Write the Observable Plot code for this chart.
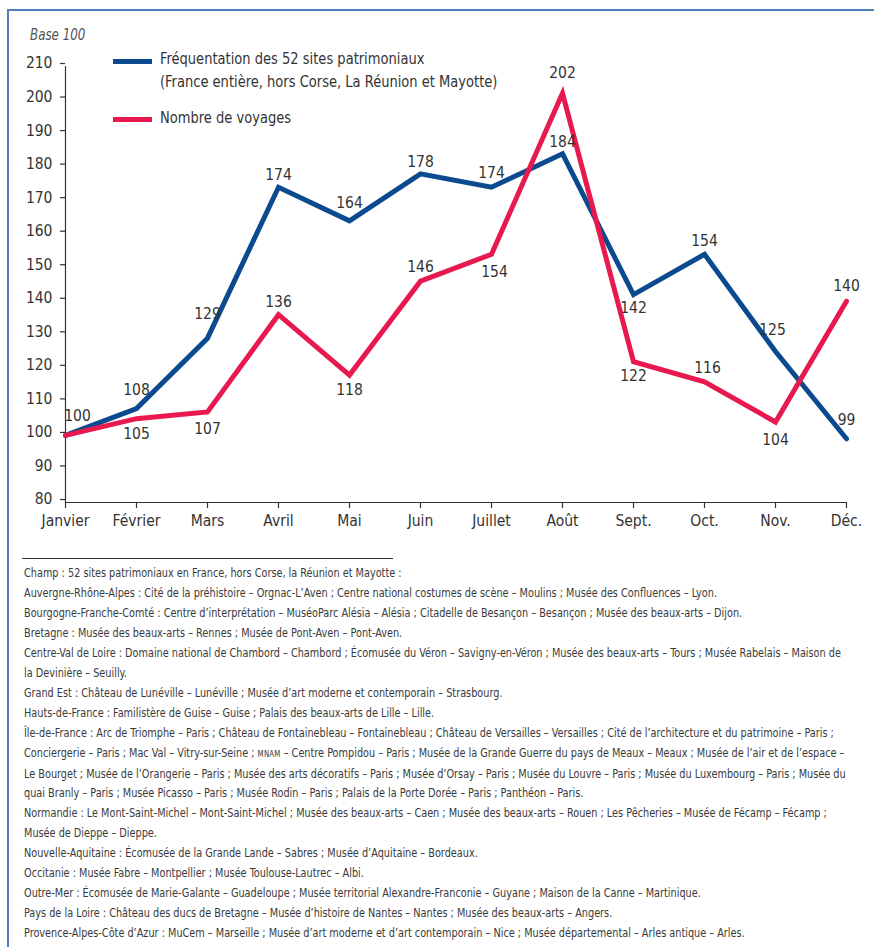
<!DOCTYPE html>
<html lang="fr">
<head>
<meta charset="utf-8">
<script src="https://cdn.jsdelivr.net/npm/d3@7"></script>
<script src="https://cdn.jsdelivr.net/npm/@observablehq/plot@0.6"></script>
<style>
  body { margin: 0; background: #fff; }
  #page { position: relative; width: 874px; height: 947px; overflow: hidden;
    font-family: "Liberation Sans Narrow", "Arial Narrow", "DejaVu Sans Condensed", sans-serif; color: #333; }
  #frame { position: absolute; left: 7px; top: 9px; right: 0; bottom: -5px;
    border-top: 2px solid #4f7fba; border-left: 2px solid #4f7fba; }
  #chart { position: absolute; left: 0; top: 0; }
  #base { position: absolute; left: 30px; top: 26px; font-style: italic; font-size: 15px; color: #555;
    transform: scaleX(0.88); transform-origin: left center; }
  .leg { position: absolute; left: 113px; font-size: 16.5px; color: #333; }
  .sw { position: absolute; left: 0; width: 39px; height: 5px; }
  .leg .t { position: absolute; left: 47px; white-space: nowrap; line-height: 23px;
    transform: scaleX(0.88); transform-origin: left center; }
  #sep { position: absolute; left: 22px; top: 558px; width: 371px; height: 1px; background: #333; }
  #notes { position: absolute; left: 24px; top: 563px; font-size: 13px; line-height: 19.95px; color: #3a3a3a;
    transform-origin: left top; }
  #notes div { white-space: nowrap; }
  .sc { font-size: 0.72em; letter-spacing: 0.03em; }
</style>
</head>
<body>
<div id="page">
  <div id="frame"></div>
  <div id="chart"></div>
  <div id="base">Base 100</div>
  <div class="leg" id="leg1" style="top:47px"><div class="sw" style="top:12px"></div><div class="t" style="top:0"></div></div>
  <div class="leg" id="leg2" style="top:106px"><div class="sw" style="top:11px"></div><div class="t" style="top:0"></div></div>
  <div id="sep"></div>
  <div id="notes"></div>
</div>
<script>
// ---- Data ----
const months = ["Janvier", "Février", "Mars", "Avril", "Mai", "Juin", "Juillet", "Août", "Sept.", "Oct.", "Nov.", "Déc."];
const frequentation = [100, 108, 129, 174, 164, 178, 174, 184, 142, 154, 125, 99];
const voyages = [100, 105, 107, 136, 118, 146, 154, 202, 122, 116, 104, 140];
const yTicks = [80, 90, 100, 110, 120, 130, 140, 150, 160, 170, 180, 190, 200, 210];
const seriesNames = ["Fréquentation des 52 sites patrimoniaux", "(France entière, hors Corse, La Réunion et Mayotte)", "Nombre de voyages"];
const notes = [
  "Champ : 52 sites patrimoniaux en France, hors Corse, la Réunion et Mayotte :",
  "Auvergne-Rhône-Alpes : Cité de la préhistoire – Orgnac-L’Aven ; Centre national costumes de scène – Moulins ; Musée des Confluences – Lyon.",
  "Bourgogne-Franche-Comté : Centre d’interprétation – MuséoParc Alésia – Alésia ; Citadelle de Besançon – Besançon ; Musée des beaux-arts – Dijon.",
  "Bretagne : Musée des beaux-arts – Rennes ; Musée de Pont-Aven – Pont-Aven.",
  "Centre-Val de Loire : Domaine national de Chambord – Chambord ; Écomusée du Véron – Savigny-en-Véron ; Musée des beaux-arts – Tours ; Musée Rabelais – Maison de",
  "la Devinière – Seuilly.",
  "Grand Est : Château de Lunéville – Lunéville ; Musée d’art moderne et contemporain – Strasbourg.",
  "Hauts-de-France : Familistère de Guise – Guise ; Palais des beaux-arts de Lille – Lille.",
  "Île-de-France : Arc de Triomphe – Paris ; Château de Fontainebleau – Fontainebleau ; Château de Versailles – Versailles ; Cité de l’architecture et du patrimoine – Paris ;",
  "Conciergerie – Paris ; Mac Val – Vitry-sur-Seine ; {mnam} – Centre Pompidou – Paris ; Musée de la Grande Guerre du pays de Meaux – Meaux ; Musée de l’air et de l’espace –",
  "Le Bourget ; Musée de l’Orangerie – Paris ; Musée des arts décoratifs – Paris ; Musée d’Orsay – Paris ; Musée du Louvre – Paris ; Musée du Luxembourg – Paris ; Musée du",
  "quai Branly – Paris ; Musée Picasso – Paris ; Musée Rodin – Paris ; Palais de la Porte Dorée – Paris ; Panthéon – Paris.",
  "Normandie : Le Mont-Saint-Michel – Mont-Saint-Michel ; Musée des beaux-arts – Caen ; Musée des beaux-arts – Rouen ; Les Pêcheries – Musée de Fécamp – Fécamp ;",
  "Musée de Dieppe – Dieppe.",
  "Nouvelle-Aquitaine : Écomusée de la Grande Lande – Sabres ; Musée d’Aquitaine – Bordeaux.",
  "Occitanie : Musée Fabre – Montpellier ; Musée Toulouse-Lautrec – Albi.",
  "Outre-Mer : Écomusée de Marie-Galante – Guadeloupe ; Musée territorial Alexandre-Franconie – Guyane ; Maison de la Canne – Martinique.",
  "Pays de la Loire : Château des ducs de Bretagne – Musée d’histoire de Nantes – Nantes ; Musée des beaux-arts – Angers.",
  "Provence-Alpes-Côte d’Azur : MuCem – Marseille ; Musée d’art moderne et d’art contemporain – Nice ; Musée départemental – Arles antique – Arles."
];

// ---- Styling / layout ----
const BLUE = "#0b4a8e";
const RED = "#e8194e";
const FONT = "'Liberation Sans Narrow', 'Arial Narrow', 'DejaVu Sans Condensed', sans-serif";
const FS = 15.5;

const blueRows = months.map((m, i) => ({month: m, value: frequentation[i]}));
const redRows = months.map((m, i) => ({month: m, value: voyages[i]}));

// label offsets [dx, dy] (pixels) per point
const blueOff = [[12,-19],[0,-19],[0,-24],[0,-12],[0,-18],[0,-12],[0,-14],[0,-12],[0,13],[0,-13],[-3,-22],[0,-19]];
const redOff  = [null,[0,15],[0,17],[0,-13],[0,15],[0,-14],[3,18],[0,-20],[0,14],[3,-14],[0,18],[0,-15]];

const labelMarks = [];
blueRows.forEach((d, i) => {
  const o = blueOff[i];
  if (o) labelMarks.push(Plot.text([d], {x: "month", y: "value", text: d => String(d.value), dx: o[0], dy: o[1], fill: "#333", fontSize: FS}));
});
redRows.forEach((d, i) => {
  const o = redOff[i];
  if (o) labelMarks.push(Plot.text([d], {x: "month", y: "value", text: d => String(d.value), dx: o[0], dy: o[1], fill: "#333", fontSize: FS}));
});

const chart = Plot.plot({
  width: 874,
  height: 545,
  marginLeft: 65,
  marginRight: 28,
  marginTop: 66,
  marginBottom: 43,
  style: {fontFamily: FONT, fontSize: FS + "px", color: "#333", background: "transparent", overflow: "visible"},
  x: {type: "point", domain: months, padding: 0},
  y: {domain: [80, 210]},
  marks: [
    Plot.axisY({ticks: yTicks, tickSize: 5, tickPadding: 8, dy: -3, label: null, fontSize: FS, stroke: "#333", strokeWidth: 1.2}),
    Plot.axisX({tickSize: 6, tickPadding: 6, label: null, fontSize: FS, stroke: "#333", strokeWidth: 1.2}),
    Plot.ruleY([80], {stroke: "#333", strokeWidth: 1.2}),
    Plot.ruleX([months[0]], {y1: 80, y2: 210, stroke: "#333", strokeWidth: 1.2}),
    Plot.line(blueRows, {x: "month", y: "value", stroke: BLUE, strokeWidth: 5, strokeLinejoin: "miter", strokeMiterlimit: 10}),
    Plot.line(redRows, {x: "month", y: "value", stroke: RED, strokeWidth: 5, strokeLinejoin: "miter", strokeMiterlimit: 10}),
    ...labelMarks
  ]
});
document.getElementById("chart").appendChild(chart);

// legend
const leg1 = document.getElementById("leg1");
leg1.querySelector(".sw").style.background = BLUE;
leg1.querySelector(".t").innerHTML = seriesNames[0] + "<br>" + seriesNames[1];
const leg2 = document.getElementById("leg2");
leg2.querySelector(".sw").style.background = RED;
leg2.querySelector(".t").textContent = seriesNames[2];

// notes
const notesEl = document.getElementById("notes");
notes.forEach(line => {
  const div = document.createElement("div");
  div.innerHTML = line.replace("{mnam}", '<span class="sc">MNAM</span>');
  notesEl.appendChild(div);
});
// condense footnote horizontally so that line 2 spans like the reference (~693px)
const probe = notesEl.children[1];
const span = document.createElement("span");
span.innerHTML = probe.innerHTML;
probe.innerHTML = "";
probe.appendChild(span);
const sw = span.getBoundingClientRect().width;
const k = 693 / sw;
notesEl.style.transform = "scaleX(" + k.toFixed(4) + ")";
</script>
</body>
</html>
